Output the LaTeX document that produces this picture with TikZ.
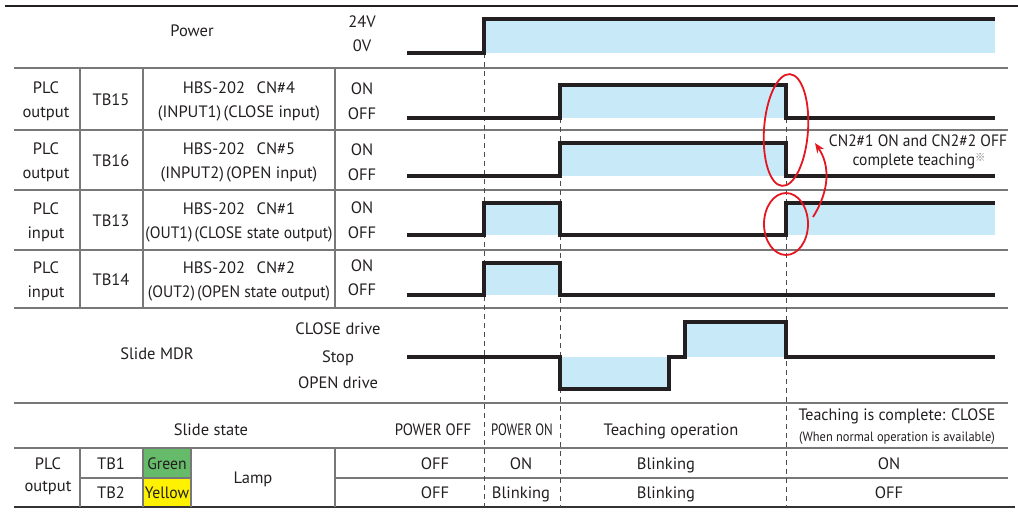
\documentclass[tikz,border=0pt]{standalone}
\usepackage{fontspec}
\setmainfont{PT Sans}
\newfontfamily\cjk{Noto Sans CJK JP}
\newfontfamily\cond[FakeStretch=0.9]{PT Sans}
\usetikzlibrary{arrows.meta}
\definecolor{skyb}{RGB}{199,233,248}
\definecolor{redm}{RGB}{228,22,32}
\definecolor{lampgreen}{RGB}{102,187,106}
\definecolor{lampyellow}{RGB}{255,242,0}
\definecolor{ink}{RGB}{35,31,32}
\definecolor{rulec}{RGB}{120,120,120}
\newcommand\fs{\fontsize{16.5}{19}\selectfont}
\tikzset{
  rule/.style={draw=rulec, line width=1.1pt},
  wave/.style={draw=ink, line width=3.2pt, line join=miter},
  dashv/.style={draw=black!70, dash pattern=on 5pt off 4pt, line width=0.9pt},
  lbl/.style={font=\fs, inner sep=0pt, text height=0.72em, text depth=0pt, anchor=center, text=ink, yshift=-1.5pt},
  redmark/.style={draw=redm, line width=1.8pt},
}
\begin{document}
\begin{tikzpicture}[x=1pt,y=-1pt]
\useasboundingbox (0,0) rectangle (1018,518);
% fills
\fill[skyb] (484,19) rectangle (995,53);
\fill[skyb] (560,85) rectangle (786,118);
\fill[skyb] (560,143) rectangle (786,176);
\fill[skyb] (484,203) rectangle (560,235);
\fill[skyb] (786,203) rectangle (995,235);
\fill[skyb] (484,263) rectangle (560,295);
\fill[skyb] (560,357) rectangle (669,389);
\fill[skyb] (685,322) rectangle (786,357);
\fill[lampgreen] (143,448) rectangle (191,478);
\fill[lampyellow] (143,478) rectangle (191,507);
% rules
\draw[draw=ink, line width=2.4pt] (5,6) -- (1018,6);
\foreach \y in {68,130,190,250,308,403,448} \draw[rule] (14,\y) -- (1008,\y);
\draw[rule] (80,478) -- (191,478);
\draw[rule] (335,478) -- (1008,478);
\draw[rule, draw=black!80, line width=1.5pt] (14,507) -- (1015,507);
\foreach \x in {80,143,335} \draw[rule] (\x,68) -- (\x,308);
\foreach \x in {80,143,191,335} \draw[rule] (\x,448) -- (\x,507);
% dashed time marks
\draw[dashv] (484,53) -- (484,507);
\draw[dashv] (560,118) -- (560,507);
\draw[dashv] (786,118) -- (786,507);
% waveforms
\draw[wave] (407,53) -- (484,53) -- (484,19) -- (995,19);
\draw[wave] (407,118) -- (560,118) -- (560,85) -- (786,85) -- (786,118) -- (995,118);
\draw[wave] (407,176) -- (560,176) -- (560,143) -- (786,143) -- (786,176) -- (995,176);
\draw[wave] (407,235) -- (484,235) -- (484,203) -- (560,203) -- (560,235) -- (786,235) -- (786,203) -- (995,203);
\draw[wave] (407,295) -- (484,295) -- (484,263) -- (560,263) -- (560,295) -- (995,295);
\draw[wave] (407,357) -- (560,357) -- (560,389) -- (669,389) -- (669,357) -- (685,357) -- (685,322) -- (786,322) -- (786,357) -- (995,357);
% labels: power
\node[lbl] (power) at (192,31) {Power};
\node[lbl] (v24) at (362,22) {24V};
\node[lbl] (v0) at (362,46) {0V};
% TB15
\node[lbl] (r1a) at (46,88) {PLC};
\node[lbl] (r1b) at (46,112) {output};
\node[lbl] (r1tb) at (111,100) {TB15};
\node[lbl] (r1c) at (239,88) {HBS-202\hspace{0.7em}CN\#4};
\node[lbl] (r1d) at (239,112) {(INPUT1)\hspace{0.15em}(CLOSE input)};
\node[lbl] (r1on) at (362,89) {ON};
\node[lbl] (r1off) at (362,114) {OFF};
% TB16
\node[lbl] (r2a) at (46,149) {PLC};
\node[lbl] (r2b) at (46,173) {output};
\node[lbl] (r2tb) at (111,161) {TB16};
\node[lbl] (r2c) at (239,149) {HBS-202\hspace{0.7em}CN\#5};
\node[lbl] (r2d) at (239,173) {(INPUT2)\hspace{0.15em}(OPEN input)};
\node[lbl] (r2on) at (362,150) {ON};
\node[lbl] (r2off) at (362,175) {OFF};
% TB13
\node[lbl] (r3a) at (46,209) {PLC};
\node[lbl] (r3b) at (46,233) {input};
\node[lbl] (r3tb) at (111,221) {TB13};
\node[lbl] (r3c) at (239,209) {HBS-202\hspace{0.7em}CN\#1};
\node[lbl] (r3d) at (239,233) {\scalebox{0.95}[1]{(OUT1)\hspace{0.15em}(CLOSE state output)}};
\node[lbl] (r3on) at (362,208) {ON};
\node[lbl] (r3off) at (362,233) {OFF};
% TB14
\node[lbl] (r4a) at (46,268) {PLC};
\node[lbl] (r4b) at (46,292) {input};
\node[lbl] (r4tb) at (111,280) {TB14};
\node[lbl] (r4c) at (239,268) {HBS-202\hspace{0.7em}CN\#2};
\node[lbl] (r4d) at (239,292) {\scalebox{0.95}[1]{(OUT2)\hspace{0.15em}(OPEN state output)}};
\node[lbl] (r4on) at (362,266) {ON};
\node[lbl] (r4off) at (362,290) {OFF};
% slide MDR
\node[lbl] (mdr) at (157,354) {Slide MDR};
\node[lbl] (mdrc) at (338,329) {CLOSE drive};
\node[lbl] (mdrs) at (338,357) {Stop};
\node[lbl] (mdro) at (338,383) {OPEN drive};
% slide state
\node[lbl] (ss) at (211,430) {Slide state};
\node[lbl] (ss1) at (433,430) {{\cond POWER OFF}};
\node[lbl] (ss2) at (522,430) {\scalebox{0.78}[1]{POWER ON}};
\node[lbl] (ss3) at (671,430) {Teaching operation};
\node[lbl] (ss4) at (897,415) {\scalebox{0.97}[1]{Teaching is complete: CLOSE}};
\node[lbl, font=\fontsize{13.5}{15}\selectfont] (ss5) at (897,436) {\scalebox{0.92}[1]{(When normal operation is available)}};
% lamp
\node[lbl] (la) at (48,464) {PLC};
\node[lbl] (lb) at (48,486) {output};
\node[lbl] (ltb1) at (111,464) {TB1};
\node[lbl] (ltb2) at (111,493) {TB2};
\node[lbl] (lg) at (167,464) {\scalebox{0.95}[1]{Green}};
\node[lbl] (ly) at (167,493) {\scalebox{0.95}[1]{Yellow}};
\node[lbl] (lamp) at (253,478) {Lamp};
\node[lbl] (g1) at (435,464) {OFF};
\node[lbl] (g2) at (521,464) {ON};
\node[lbl] (g3) at (666,464) {Blinking};
\node[lbl] (g4) at (889,464) {ON};
\node[lbl] (y1) at (435,493) {OFF};
\node[lbl] (y2) at (521,493) {Blinking};
\node[lbl] (y3) at (666,493) {Blinking};
\node[lbl] (y4) at (889,493) {OFF};
% red annotation
\draw[redmark, rotate around={-4:(786,130)}] (786,130) ellipse [x radius=22, y radius=56];
\draw[redmark] (786,224) ellipse [x radius=22, y radius=31];
\coordinate (arrS) at (813,217);
\coordinate (arrE) at (815,143);
\draw[redmark, -{Stealth[length=10pt,width=8pt]}] (arrS) .. controls (830,190) and (830,165) .. (arrE);
\node[lbl] (note1) at (918,141) {\scalebox{0.94}[1]{CN2\#1 ON and CN2\#2 OFF}};
\node[lbl] (note2) at (919,160) {\scalebox{0.94}[1]{complete teaching{\cjk\fontsize{11}{12}\selectfont\raisebox{0.3em}{\color{black!50}※}}}};
\end{tikzpicture}
\end{document}
